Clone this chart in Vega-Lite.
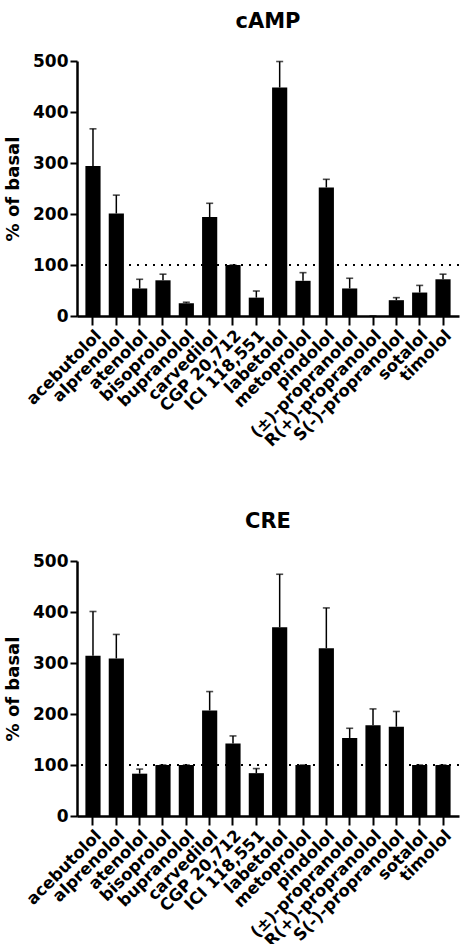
{
  "$schema": "https://vega.github.io/schema/vega-lite/v6.json",
  "padding": {"left": 4, "top": 11, "right": 2, "bottom": 0},
  "config": {
    "font": "DejaVu Sans",
    "view": {"stroke": null},
    "concat": {"spacing": 61},
    "title": {"fontSize": 21, "fontWeight": "bold", "color": "black", "frame": "group", "anchor": "middle", "offset": 20},
    "axis": {
      "domainColor": "black", "domainWidth": 2.5, "tickColor": "black", "tickWidth": 2,
      "labelColor": "black", "labelFontWeight": "bold", "grid": false,
      "titleColor": "black", "titleFontWeight": "bold"
    }
  },
  "datasets": {
    "response": [
      {"assay": "cAMP", "drug": "acebutolol", "value": 294, "upper": 367},
      {"assay": "cAMP", "drug": "alprenolol", "value": 201, "upper": 237},
      {"assay": "cAMP", "drug": "atenolol", "value": 54, "upper": 72},
      {"assay": "cAMP", "drug": "bisoprolol", "value": 70, "upper": 82},
      {"assay": "cAMP", "drug": "bupranolol", "value": 25, "upper": 27},
      {"assay": "cAMP", "drug": "carvedilol", "value": 194, "upper": 221},
      {"assay": "cAMP", "drug": "CGP 20,712", "value": 100, "upper": 100},
      {"assay": "cAMP", "drug": "ICI 118,551", "value": 36, "upper": 49},
      {"assay": "cAMP", "drug": "labetolol", "value": 448, "upper": 499},
      {"assay": "cAMP", "drug": "metoprolol", "value": 69, "upper": 85},
      {"assay": "cAMP", "drug": "pindolol", "value": 252, "upper": 268},
      {"assay": "cAMP", "drug": "(±)-propranolol", "value": 54, "upper": 74},
      {"assay": "cAMP", "drug": "R(+)-propranolol", "value": 0, "upper": 0},
      {"assay": "cAMP", "drug": "S(-)-propranolol", "value": 31, "upper": 36},
      {"assay": "cAMP", "drug": "sotalol", "value": 46, "upper": 60},
      {"assay": "cAMP", "drug": "timolol", "value": 72, "upper": 82},
      {"assay": "CRE", "drug": "acebutolol", "value": 314, "upper": 401},
      {"assay": "CRE", "drug": "alprenolol", "value": 309, "upper": 356},
      {"assay": "CRE", "drug": "atenolol", "value": 83, "upper": 92},
      {"assay": "CRE", "drug": "bisoprolol", "value": 100, "upper": 100},
      {"assay": "CRE", "drug": "bupranolol", "value": 100, "upper": 100},
      {"assay": "CRE", "drug": "carvedilol", "value": 207, "upper": 244},
      {"assay": "CRE", "drug": "CGP 20,712", "value": 142, "upper": 157},
      {"assay": "CRE", "drug": "ICI 118,551", "value": 84, "upper": 93},
      {"assay": "CRE", "drug": "labetolol", "value": 370, "upper": 474},
      {"assay": "CRE", "drug": "metoprolol", "value": 100, "upper": 100},
      {"assay": "CRE", "drug": "pindolol", "value": 329, "upper": 408},
      {"assay": "CRE", "drug": "(±)-propranolol", "value": 153, "upper": 172},
      {"assay": "CRE", "drug": "R(+)-propranolol", "value": 178, "upper": 210},
      {"assay": "CRE", "drug": "S(-)-propranolol", "value": 175, "upper": 205},
      {"assay": "CRE", "drug": "sotalol", "value": 100, "upper": 100},
      {"assay": "CRE", "drug": "timolol", "value": 100, "upper": 100}
    ],
    "basal": [{"level": 100}]
  },
  "vconcat": [
    {
      "title": "cAMP",
      "width": 382,
      "height": 255,
      "layer": [
        {
          "data": {"name": "basal"},
          "mark": {"type": "rule", "strokeDash": [2, 6], "strokeWidth": 2.2, "color": "black"},
          "encoding": {"y": {"field": "level", "type": "quantitative"}}
        },
        {
          "data": {"name": "response"},
          "transform": [{"filter": "datum.assay === 'cAMP'"}],
          "layer": [
            {
              "mark": {"type": "rule", "color": "black", "strokeWidth": 1.5},
              "encoding": {"y2": {"field": "upper"}}
            },
            {
              "mark": {"type": "tick", "color": "black", "thickness": 1.6, "size": 7},
              "encoding": {"y": {"field": "upper", "type": "quantitative"}}
            },
            {"mark": {"type": "bar", "color": "black"}}
          ],
          "encoding": {
            "x": {
              "field": "drug", "type": "nominal", "sort": null,
              "scale": {"paddingInner": 0.35, "paddingOuter": 0.36},
              "axis": {"title": null, "labelAngle": -45, "labelFontSize": 16.5, "tickSize": 9, "labelPadding": 2, "labelLimit": 200}
            },
            "y": {
              "field": "value", "type": "quantitative",
              "scale": {"domain": [0, 500], "nice": false},
              "axis": {"title": "% of basal", "titleFontSize": 18, "labelFontSize": 17, "values": [0, 100, 200, 300, 400, 500], "tickSize": 7, "titlePadding": 10}
            }
          }
        }
      ]
    },
    {
      "title": "CRE",
      "width": 382,
      "height": 255,
      "layer": [
        {
          "data": {"name": "basal"},
          "mark": {"type": "rule", "strokeDash": [2, 6], "strokeWidth": 2.2, "color": "black"},
          "encoding": {"y": {"field": "level", "type": "quantitative"}}
        },
        {
          "data": {"name": "response"},
          "transform": [{"filter": "datum.assay === 'CRE'"}],
          "layer": [
            {
              "mark": {"type": "rule", "color": "black", "strokeWidth": 1.5},
              "encoding": {"y2": {"field": "upper"}}
            },
            {
              "mark": {"type": "tick", "color": "black", "thickness": 1.6, "size": 7},
              "encoding": {"y": {"field": "upper", "type": "quantitative"}}
            },
            {"mark": {"type": "bar", "color": "black"}}
          ],
          "encoding": {
            "x": {
              "field": "drug", "type": "nominal", "sort": null,
              "scale": {"paddingInner": 0.35, "paddingOuter": 0.36},
              "axis": {"title": null, "labelAngle": -45, "labelFontSize": 16.5, "tickSize": 9, "labelPadding": 2, "labelLimit": 200}
            },
            "y": {
              "field": "value", "type": "quantitative",
              "scale": {"domain": [0, 500], "nice": false},
              "axis": {"title": "% of basal", "titleFontSize": 18, "labelFontSize": 17, "values": [0, 100, 200, 300, 400, 500], "tickSize": 7, "titlePadding": 10}
            }
          }
        }
      ]
    }
  ]
}
